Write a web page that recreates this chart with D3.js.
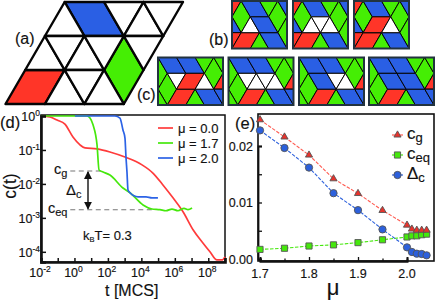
<!DOCTYPE html>
<html>
<head>
<meta charset="utf-8">
<script src="https://cdn.jsdelivr.net/npm/d3@7"></script>
<style>
  html, body { margin: 0; padding: 0; background: #fff; }
  svg { display: block; }
  text { font-family: "Liberation Sans", Arial, sans-serif; fill: #111; stroke: #111; stroke-width: 0.15; }
</style>
</head>
<body>
<svg width="436" height="300"></svg>
<script>
// colours of the tiling
const BLUE = '#2a5fe4', GREEN = '#45ee04', RED = '#ff3528';

// tiles are [kind, a, r]: a = half steps along a row, r = row number
const latticeTiles = [
  ['blue', 3, 0], ['green', 6, 1], ['red', 1, 2],
  ['up', 3, 0], ['down', 5, 0], ['up', 7, 0], ['down', 7, 0],
  ['up', 2, 1], ['down', 2, 1], ['up', 4, 1], ['down', 4, 1], ['down', 6, 1],
  ['up', 3, 2], ['down', 3, 2], ['up', 5, 2]
];

// part shared by all (b) panels
const bCommon = [
  ['red', -1, 0], ['green', 1, 0], ['blue', 1, 0], ['green', 4, -1], ['green', 5, 0], ['blue', 5, 0],
  ['blue', -2, 1], ['green', 6, 1], ['red', -1, 2], ['red', 1, 2], ['green', 3, 2], ['blue', 3, 2]
];
const b1Tiles = bCommon.concat([['up', 2, 1], ['blue', 2, 1]]);
const b2Tiles = bCommon.concat([['up', 2, 1], ['down', 2, 1], ['up', 4, 1]]);
const b3Tiles = bCommon.concat([['up', 2, 1], ['red', 2, 1], ['up', 4, 1]]);

// part shared by all (c) panels
const cCommon = [
  ['green', 0, 0], ['blue', 0, 0], ['blue', 2, 0], ['green', 5, -1], ['green', 6, 0], ['green', 7, -1],
  ['green', 1, 1], ['red', 7, 1], ['green', 0, 2], ['red', 2, 2], ['green', 4, 2], ['blue', 4, 2], ['blue', 6, 2]
];
const c1Tiles = cCommon.concat([['down', 1, 1], ['red', 3, 1], ['up', 5, 1]]);
const c2Tiles = cCommon.concat([['down', 1, 1], ['up', 3, 1], ['down', 3, 1], ['up', 5, 1]]);
const c3Tiles = cCommon.concat([['blue', 1, 1], ['down', 3, 1], ['up', 5, 1]]);
const c4Tiles = cCommon.concat([['blue', 1, 1], ['blue', 3, 1]]);

// panel (d): log10 t and log10 c
const redT = [-2, -1.46, -1.04, -0.57, -0.09, 0.33, 0.63, 1.35, 2.12, 3.02, 4.04, 4.69, 5.29, 5.89, 6.49, 7.09, 7.68, 8.1, 8.52, 8.82, 9];
const redC = [0, -0.03, -0.12, -0.24, -0.62, -0.85, -0.94, -0.97, -1.06, -1.21, -1.44, -1.68, -2.03, -2.41, -2.82, -3.35, -3.74, -4.0, -4.24, -4.24, -4.15];
const greenT = [-2, 0.75, 0.93, 1.11, 1.35, 1.47, 1.71, 2.12, 2.9, 3.32, 4.1, 4.63, 5.11, 5.47, 5.83, 6.19, 6.55, 6.79, 7.03];
const greenC = [0, 0, -0.06, -0.26, -0.85, -1.59, -1.65, -1.74, -2.12, -2.26, -2.62, -2.74, -2.76, -2.79, -2.74, -2.79, -2.72, -2.76, -2.71];
const blueT = [0.03, 2.42, 2.72, 2.9, 3.02, 3.08, 3.14, 3.2, 3.32, 3.8, 4.28, 4.63, 4.99];
const blueC = [0, 0, -0.06, -0.41, -0.65, -1.21, -1.65, -2.18, -2.26, -2.38, -2.38, -2.41, -2.41];
const legendD = ['\u03bc = 0.0', '\u03bc = 1.7', '\u03bc = 2.0'];
const logCg = -1.62, logCeq = -2.76;

// panel (e)
const mu = [1.7, 1.75, 1.8, 1.85, 1.9, 1.95, 2.0, 2.01, 2.02, 2.03, 2.04];
const cg = [0.02465, 0.0216, 0.0184, 0.0142, 0.0116, 0.0086, 0.006, 0.0053, 0.0051, 0.0051, 0.0051];
const ceq = [0.0017, 0.0019, 0.0023, 0.0025, 0.0029, 0.0034, 0.0039, 0.0041, 0.0041, 0.0043, 0.0044];
const deltaC = [0.02276, 0.01965, 0.01618, 0.01165, 0.00865, 0.00524, 0.00206, 0.00124, 0.00094, 0.00088, 0.00065];

var svg = d3.select('svg');

// turn a tile into lattice corner points
function corners(t) {
  var a = t[1], r = t[2];
  if (t[0] === 'blue') return [[a, r], [a + 2, r], [a + 3, r + 1], [a + 1, r + 1]];
  if (t[0] === 'red') return [[a, r], [a + 2, r], [a + 1, r + 1], [a - 1, r + 1]];
  if (t[0] === 'green') return [[a, r], [a + 1, r + 1], [a, r + 2], [a - 1, r + 1]];
  if (t[0] === 'up') return [[a, r], [a + 1, r + 1], [a - 1, r + 1]];
  return [[a, r], [a + 2, r], [a + 1, r + 1]];
}
var tileFill = { blue: BLUE, green: GREEN, red: RED, up: '#fff', down: '#fff' };

function drawTiles(g, tiles, sx, sy, width) {
  g.selectAll('polygon')
    .data(tiles)
    .enter()
    .append('polygon')
    .attr('points', function (d) {
      return corners(d).map(function (p) { return sx(p[0]) + ',' + sy(p[1]); }).join(' ');
    })
    .attr('fill', function (d) { return tileFill[d[0]]; })
    .attr('stroke', '#050505')
    .attr('stroke-width', width)
    .attr('stroke-linejoin', 'round');
}

// (a) big lattice
var bigX = d3.scaleLinear().domain([0, 9]).range([5.5, 183]);
var bigY = d3.scaleLinear().domain([0, 3]).range([2, 104]);
drawTiles(svg.append('g'), latticeTiles, bigX, bigY, 2.4);

// mini configurations
var minis = [
  { tiles: b1Tiles, x: 232, y: 1, w: 55, h: 47.5, n: 6 },
  { tiles: b2Tiles, x: 293, y: 1, w: 55, h: 47.5, n: 6 },
  { tiles: b3Tiles, x: 354, y: 1, w: 55, h: 47.5, n: 6 },
  { tiles: c1Tiles, x: 158, y: 57.5, w: 65, h: 47.5, n: 7 },
  { tiles: c2Tiles, x: 228.5, y: 57.5, w: 65, h: 47.5, n: 7 },
  { tiles: c3Tiles, x: 299, y: 57.5, w: 65, h: 47.5, n: 7 },
  { tiles: c4Tiles, x: 369, y: 57.5, w: 65, h: 47.5, n: 7 }
];
minis.forEach(function (m, i) {
  var sx = d3.scaleLinear().domain([0, m.n]).range([m.x, m.x + m.w]);
  var sy = d3.scaleLinear().domain([0, 3]).range([m.y, m.y + m.h]);
  svg.append('clipPath').attr('id', 'mini' + i)
    .append('rect').attr('x', m.x).attr('y', m.y).attr('width', m.w).attr('height', m.h);
  drawTiles(svg.append('g').attr('clip-path', 'url(#mini' + i + ')'), m.tiles, sx, sy, 1);
  svg.append('rect').attr('x', m.x).attr('y', m.y).attr('width', m.w).attr('height', m.h)
    .attr('fill', 'none').attr('stroke', '#22333f').attr('stroke-width', 2);
});

function label(x, y, txt, size, anchor) {
  return svg.append('text').attr('x', x).attr('y', y).attr('font-size', size)
    .attr('text-anchor', anchor || 'start').text(txt);
}
// text with raised or lowered tail
function script(x, y, base, tail, size, tailSize, dy, anchor) {
  var t = svg.append('text').attr('x', x).attr('y', y).attr('font-size', size)
    .attr('text-anchor', anchor || 'start');
  t.append('tspan').text(base);
  t.append('tspan').attr('font-size', tailSize).attr('dy', dy).text(tail);
  return t;
}

label(15, 44, '(a)', 16);
label(209, 45, '(b)', 16);
label(137, 100, '(c)', 16);
label(0, 128, '(d)', 16.5);
label(235, 129, '(e)', 16.5);

// (d) relaxation curves
var xD = d3.scaleLog().domain([1e-2, 1e9]).range([41, 225]);
var yD = d3.scaleLog().domain([1, Math.pow(10, -4.3)]).range([116, 262]);
var lineD = d3.line()
  .x(function (d) { return xD(Math.pow(10, d[0])); })
  .y(function (d) { return yD(Math.pow(10, d[1])); })
  .curve(d3.curveMonotoneX);

svg.append('rect').attr('x', 41).attr('y', 115).attr('width', 184).attr('height', 147)
  .attr('fill', 'none').attr('stroke', '#111').attr('stroke-width', 1.5);

[logCg, logCeq].forEach(function (c, i) {
  svg.append('line')
    .attr('x1', xD(Math.pow(10, -0.25))).attr('x2', xD(Math.pow(10, i ? 4.7 : 1.7)))
    .attr('y1', yD(Math.pow(10, c))).attr('y2', yD(Math.pow(10, c)))
    .attr('stroke', '#777').attr('stroke-width', 1.1).attr('stroke-dasharray', '5,3.5');
});

[[redT, redC, '#ff3b3b'], [greenT, greenC, '#45e80c'], [blueT, blueC, '#2c63e6']].forEach(function (s) {
  svg.append('path')
    .datum(d3.zip(s[0], s[1]))
    .attr('d', lineD)
    .attr('fill', 'none')
    .attr('stroke', s[2])
    .attr('stroke-width', 1.7);
});

var xAxisD = d3.axisBottom(xD).tickValues(d3.range(-2, 10).map(function (e) { return Math.pow(10, e); }))
  .tickSize(-4).tickFormat('');
var gx = svg.append('g').attr('transform', 'translate(0,262)').call(xAxisD);
var yAxisD = d3.axisLeft(yD).tickValues([1, 1e-1, 1e-2, 1e-3, 1e-4]).tickSize(-5).tickFormat('');
var gy = svg.append('g').attr('transform', 'translate(41,0)').call(yAxisD);
[gx, gy].forEach(function (g) {
  g.selectAll('line').attr('stroke', '#111').attr('stroke-width', 1.5);
  g.select('.domain').attr('stroke', '#111').attr('stroke-width', 2.6);
});

[-2, 0, 2, 4, 6, 8].forEach(function (e) {
  script(xD(Math.pow(10, e)) - 1, 277, '10', String(e), 12.5, 8.5, -5, 'middle');
});
[0, -1, -2, -3, -4].forEach(function (e) {
  script(40, yD(Math.pow(10, e)) + 5, '10', String(e), 12.5, 8.5, -5, 'end');
});
label(105, 296, 't [MCS]', 16);
svg.append('text').attr('transform', 'translate(16,186) rotate(-90)')
  .attr('font-size', 17.5).attr('text-anchor', 'middle').text('c(t)');

script(54, 174, 'c', 'g', 14.5, 11, 3);
script(48, 213, 'c', 'eq', 14.5, 11, 3);
script(66, 195, '\u0394', 'c', 15, 11, 3);
var kT = svg.append('text').attr('x', 83).attr('y', 240).attr('font-size', 13);
kT.append('tspan').text('k');
kT.append('tspan').attr('font-size', 7.5).attr('dy', 2).text('B');
kT.append('tspan').attr('dy', -2).text('T= 0.3');

// double arrow between c_g and c_eq
svg.append('defs').append('marker').attr('id', 'tip').attr('viewBox', '0 0 8 8')
  .attr('refX', 7).attr('refY', 4).attr('markerWidth', 8).attr('markerHeight', 8)
  .attr('markerUnits', 'userSpaceOnUse').attr('orient', 'auto-start-reverse')
  .append('path').attr('d', 'M0,0L8,4L0,8Z').attr('fill', '#111');
svg.append('line').attr('x1', 88).attr('x2', 88)
  .attr('y1', yD(Math.pow(10, logCg)) + 1).attr('y2', yD(Math.pow(10, logCeq)) - 1)
  .attr('stroke', '#111').attr('stroke-width', 1.4)
  .attr('marker-start', 'url(#tip)').attr('marker-end', 'url(#tip)');

['#ff3b3b', '#45e80c', '#2c63e6'].forEach(function (c, i) {
  var y = 128 + i * 15;
  svg.append('line').attr('x1', 158).attr('x2', 173).attr('y1', y).attr('y2', y)
    .attr('stroke', c).attr('stroke-width', 1.7);
  label(178, y + 4.5, legendD[i], 13);
});

// (e) concentrations against mu
var xE = d3.scaleLinear().domain([1.7, 2.0]).range([260, 407]);
var yE = d3.scaleLinear().domain([0, 0.02]).range([259, 146]);

svg.append('rect').attr('x', 258).attr('y', 114).attr('width', 176).attr('height', 147)
  .attr('fill', 'none').attr('stroke', '#111').attr('stroke-width', 1.6);

var gxE = svg.append('g').attr('transform', 'translate(0,261)')
  .call(d3.axisBottom(xE).tickValues([1.7, 1.8, 1.9, 2.0]).tickSize(-4).tickFormat(''));
var gxEm = svg.append('g').attr('transform', 'translate(0,261)')
  .call(d3.axisBottom(xE).tickValues([1.75, 1.85, 1.95]).tickSize(-2.5).tickFormat(''));
var gyE = svg.append('g').attr('transform', 'translate(258,0)')
  .call(d3.axisLeft(yE).tickValues([0, 0.005, 0.01, 0.015, 0.02]).tickSize(-4).tickFormat(''));
[gxE, gxEm, gyE].forEach(function (g) {
  g.selectAll('line').attr('stroke', '#111').attr('stroke-width', 1.3);
  g.select('.domain').attr('stroke', '#111').attr('stroke-width', 1.8);
});
[1.7, 1.8, 1.9, 2.0].forEach(function (m) {
  label(xE(m), 278, m.toFixed(1), 12.5, 'middle');
});
[0, 0.01, 0.02].forEach(function (v) {
  label(253, yE(v) + 4.5, v.toFixed(2), 12.5, 'end');
});
svg.append('text').attr('x', 333).attr('y', 295).attr('font-size', 22)
  .attr('text-anchor', 'middle').text('\u03bc');

var lineE = d3.line().x(function (d) { return xE(d[0]); }).y(function (d) { return yE(d[1]); });
var sym = {
  tri: d3.symbol().type(d3.symbolTriangle).size(22),
  sq: d3.symbol().type(d3.symbolSquare).size(38),
  dot: d3.symbol().type(d3.symbolCircle).size(42)
};
var seriesE = [
  { v: ceq, c: '#45e80c', s: sym.sq },
  { v: cg, c: '#e8322c', s: sym.tri, l: '#ff5a50' },
  { v: deltaC, c: '#2c60dc', s: sym.dot }
];
seriesE.forEach(function (s) {
  svg.append('path').datum(d3.zip(mu, s.v)).attr('d', lineE).attr('fill', 'none')
    .attr('stroke', s.l || s.c).attr('stroke-width', 1.1).attr('stroke-dasharray', '3.5,1.5');
  svg.append('g').selectAll('path').data(d3.zip(mu, s.v)).enter().append('path')
    .attr('d', s.s())
    .attr('transform', function (d) { return 'translate(' + xE(d[0]) + ',' + yE(d[1]) + ')'; })
    .attr('fill', s.c).attr('stroke', '#555').attr('stroke-width', 0.9);
});

// legend (e)
[[135, seriesE[1], 'c', 'g'], [155, seriesE[0], 'c', 'eq'], [175, seriesE[2], '\u0394', 'c']].forEach(function (r) {
  svg.append('line').attr('x1', 392).attr('x2', 403).attr('y1', r[0]).attr('y2', r[0])
    .attr('stroke', r[1].l || r[1].c).attr('stroke-width', 1.2);
  svg.append('path').attr('d', r[1].s()).attr('transform', 'translate(397.5,' + r[0] + ')')
    .attr('fill', r[1].c).attr('stroke', '#555').attr('stroke-width', 0.9);
  script(407, r[0] + 4, r[2], r[3], 17, 13, 3);
});
</script>
</body>
</html>
